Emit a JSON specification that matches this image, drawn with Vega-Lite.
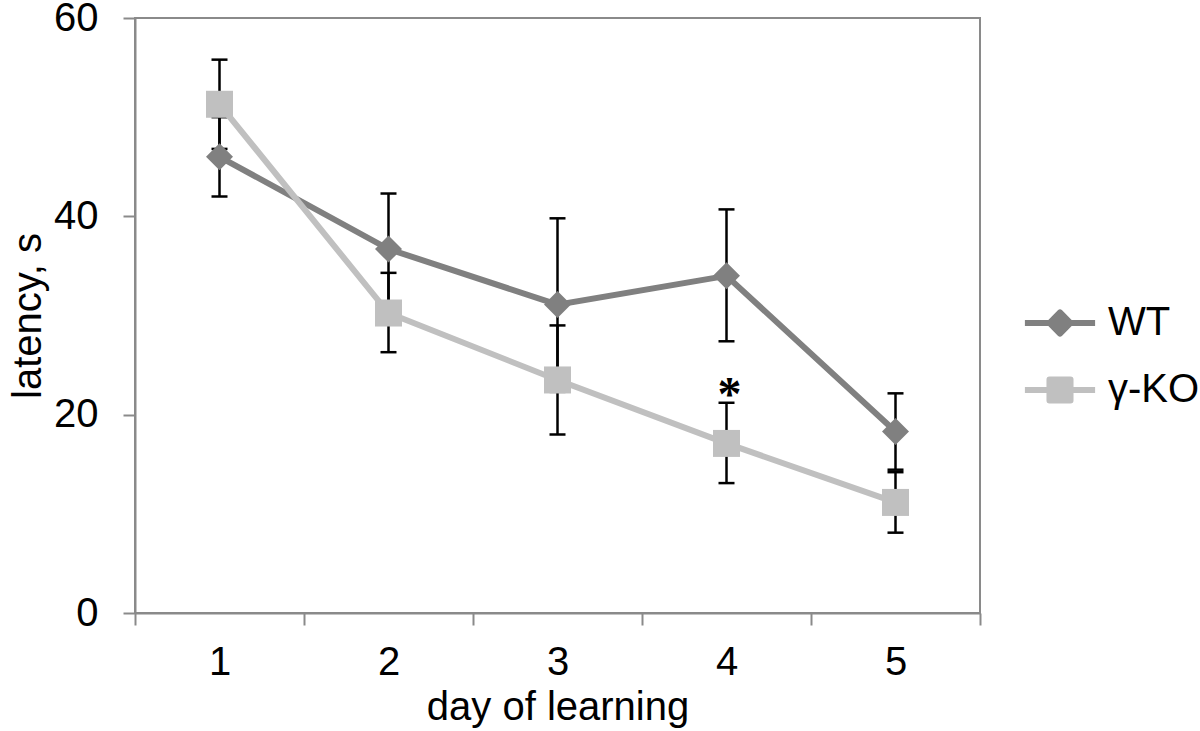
{
  "$schema": "https://vega.github.io/schema/vega-lite/v6.json",
  "width": 845,
  "height": 595,
  "autosize": {"type": "none"},
  "padding": {"left": 135, "top": 18, "right": 220, "bottom": 118},
  "background": "white",
  "config": {
    "font": "Liberation Sans",
    "view": {"stroke": "#8a8a8a", "strokeWidth": 2},
    "axis": {
      "grid": false,
      "domainColor": "#8a8a8a",
      "domainWidth": 2,
      "tickColor": "#8a8a8a",
      "tickWidth": 2,
      "tickSize": 12,
      "labelFont": "Liberation Sans",
      "labelFontSize": 40,
      "labelColor": "black",
      "titleFont": "Liberation Sans",
      "titleFontSize": 40,
      "titleFontWeight": "normal",
      "titleColor": "black"
    }
  },
  "data": {
    "values": [
      {"day": 1, "group": "WT", "mean": 46.0, "lo": 42.0, "hi": 50.0},
      {"day": 2, "group": "WT", "mean": 36.7, "lo": 31.1, "hi": 42.3},
      {"day": 3, "group": "WT", "mean": 31.1, "lo": 22.3, "hi": 39.8},
      {"day": 4, "group": "WT", "mean": 34.0, "lo": 27.4, "hi": 40.7},
      {"day": 5, "group": "WT", "mean": 18.3, "lo": 14.45, "hi": 22.15},
      {"day": 1, "group": "γ-KO", "mean": 51.3, "lo": 46.8, "hi": 55.8},
      {"day": 2, "group": "γ-KO", "mean": 30.25, "lo": 26.3, "hi": 34.3},
      {"day": 3, "group": "γ-KO", "mean": 23.5, "lo": 18.0, "hi": 29.0},
      {"day": 4, "group": "γ-KO", "mean": 17.1, "lo": 13.1, "hi": 21.2},
      {"day": 5, "group": "γ-KO", "mean": 11.15, "lo": 8.1, "hi": 14.2}
    ]
  },
  "encoding": {
    "x": {
      "field": "day",
      "type": "ordinal",
      "scale": {"type": "band", "paddingInner": 0, "paddingOuter": 0},
      "axis": {"title": "day of learning", "labelAngle": 0, "tickBand": "extent", "labelPadding": 17, "titlePadding": 5}
    }
  },
  "layer": [
    {
      "mark": {"type": "rule", "color": "black", "strokeWidth": 2.5},
      "encoding": {
        "y": {"field": "lo", "type": "quantitative", "scale": {"domain": [0, 60]},
          "axis": {"title": "latency, s", "values": [0, 20, 40, 60], "labelPadding": 25, "titlePadding": 5}},
        "y2": {"field": "hi"}
      }
    },
    {
      "mark": {"type": "tick", "color": "black", "thickness": 2.5, "size": 16, "orient": "horizontal", "opacity": 1},
      "encoding": {"y": {"field": "lo", "type": "quantitative"}}
    },
    {
      "mark": {"type": "tick", "color": "black", "thickness": 2.5, "size": 16, "orient": "horizontal", "opacity": 1},
      "encoding": {"y": {"field": "hi", "type": "quantitative"}}
    },
    {
      "transform": [{"filter": "datum.group === 'WT'"}],
      "mark": {"type": "line", "color": "#808080", "strokeWidth": 6},
      "encoding": {"y": {"field": "mean", "type": "quantitative"}}
    },
    {
      "transform": [{"filter": "datum.group === 'WT'"}],
      "mark": {"type": "point", "shape": "diamond", "filled": true, "color": "#808080", "size": 729, "opacity": 1},
      "encoding": {"y": {"field": "mean", "type": "quantitative"}}
    },
    {
      "transform": [{"filter": "datum.group === 'γ-KO'"}],
      "mark": {"type": "line", "color": "#c0c0c0", "strokeWidth": 6},
      "encoding": {"y": {"field": "mean", "type": "quantitative"}}
    },
    {
      "transform": [{"filter": "datum.group === 'γ-KO'"}],
      "mark": {"type": "point", "shape": "square", "filled": true, "color": "#c0c0c0", "size": 729, "opacity": 1},
      "encoding": {"y": {"field": "mean", "type": "quantitative"}}
    },
    {
      "data": {"values": [{"day": 4, "pos": 22.7, "label": "*"}]},
      "mark": {"type": "text", "font": "Liberation Serif", "fontSize": 48, "fontWeight": "bold", "color": "black", "baseline": "middle", "align": "center", "dy": 8, "dx": 3},
      "encoding": {"y": {"field": "pos", "type": "quantitative"}, "text": {"field": "label"}}
    },
    {
      "mark": {"type": "point", "filled": true, "opacity": 0, "size": 729},
      "encoding": {
        "y": {"field": "mean", "type": "quantitative"},
        "color": {
          "field": "group", "type": "nominal",
          "scale": {"domain": ["WT", "γ-KO"], "range": ["#808080", "#c0c0c0"]},
          "legend": {
            "title": null,
            "orient": "none",
            "legendX": 905,
            "legendY": 285,
            "padding": 0,
            "labelFont": "Liberation Sans",
            "labelFontSize": 40,
            "labelColor": "black",
            "labelOffset": 28,
            "rowPadding": 27,
            "symbolSize": 729,
            "symbolOpacity": 1,
            "symbolStrokeWidth": 6,
            "encode": {
              "symbols": {
                "update": {
                  "fill": {"scale": "color", "field": "value"},
                  "stroke": {"scale": "color", "field": "value"},
                  "strokeWidth": {"value": 6},
                  "strokeJoin": {"value": "round"},
                  "opacity": {"value": 1}
                }
              }
            }
          }
        },
        "shape": {
          "field": "group", "type": "nominal",
          "scale": {
            "domain": ["WT", "γ-KO"],
            "range": [
              "M-2.6,0H2.6M0,-0.78L0.78,0L0,0.78L-0.78,0Z",
              "M-2.6,0H2.6M-0.78,-0.78H0.78V0.78H-0.78Z"
            ]
          }
        }
      }
    }
  ]
}
